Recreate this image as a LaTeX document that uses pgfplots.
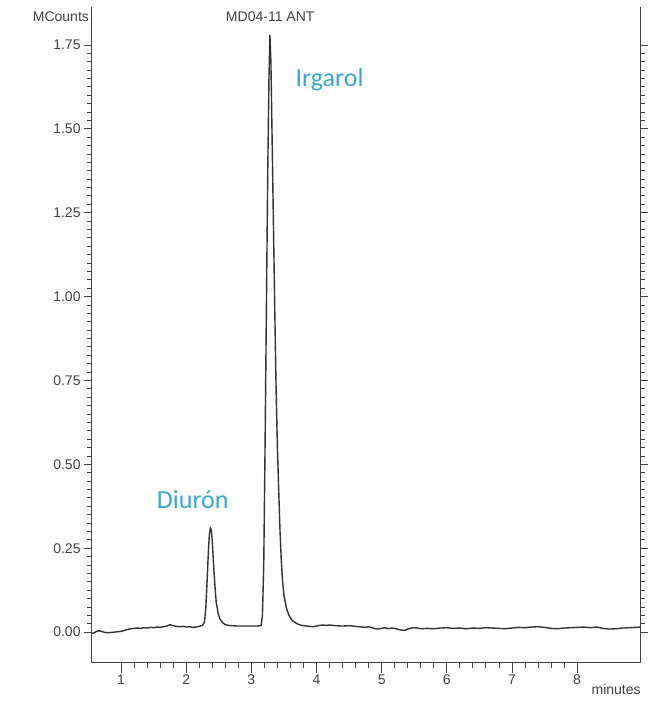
\documentclass[border=0pt]{standalone}
\usepackage{pgfplots}
\pgfplotsset{compat=1.18}
\usepackage{fontspec}
\setmainfont{Liberation Sans}
\newfontfamily\carlito{Carlito}
\definecolor{axgray}{RGB}{65,65,65}
\definecolor{trace}{RGB}{50,50,50}
\definecolor{annblue}{RGB}{60,165,210}

\begin{document}
\begin{tikzpicture}
\begin{axis}[
  scale only axis, width=549pt, height=655pt,
  xmin=0.54, xmax=8.98, ymin=-0.092, ymax=1.863,
  axis x line=bottom, axis y line=box,
  axis line style={-,axgray,line width=1pt},
  tick align=outside,
  tick style={axgray,line width=0.8pt},
  major tick length=7pt, minor tick length=4pt,
  xtick={1,2,3,4,5,6,7,8}, minor x tick num=4,
  ytick={0,0.25,0.5,0.75,1,1.25,1.5,1.75}, minor y tick num=9,
  xtick style={/pgfplots/major tick length=10pt,/pgfplots/minor tick length=5pt},
  /pgf/number format/assume math mode=true,
  yticklabel style={/pgf/number format/.cd,fixed,fixed zerofill,precision=2},
  ticklabel style={font=\fontsize{14}{15}\selectfont, text=axgray},
  xticklabel style={yshift=-1pt},
  clip=false,
]
\addplot[trace, line width=1.4pt] coordinates {
(0.54,-0.004)(0.58,-0.003)(0.62,0.002)(0.66,0.004)(0.70,0.002)(0.75,-0.001)(0.80,-0.002)(0.85,-0.001)(0.90,0.000)(0.95,0.001)
(1.00,0.002)(1.05,0.005)(1.10,0.008)(1.15,0.010)(1.20,0.011)(1.25,0.012)(1.30,0.011)(1.35,0.013)(1.40,0.012)(1.45,0.014)
(1.50,0.013)(1.55,0.015)(1.60,0.014)(1.65,0.016)(1.70,0.018)(1.75,0.022)(1.80,0.019)(1.85,0.017)(1.90,0.016)(1.95,0.017)
(2.00,0.015)(2.05,0.016)(2.10,0.014)(2.15,0.015)(2.20,0.017)(2.25,0.020)(2.28,0.030)
(2.30,0.07)(2.32,0.15)(2.34,0.24)(2.355,0.29)(2.37,0.31)(2.385,0.305)(2.40,0.27)(2.42,0.20)(2.44,0.14)(2.46,0.09)
(2.49,0.055)(2.52,0.038)(2.56,0.028)(2.60,0.022)(2.65,0.020)(2.70,0.019)(2.80,0.018)(2.90,0.018)(3.00,0.018)(3.10,0.018)(3.15,0.020)
(3.17,0.05)(3.19,0.20)(3.21,0.55)(3.23,0.95)(3.25,1.35)(3.27,1.65)(3.285,1.78)(3.30,1.70)(3.32,1.45)(3.34,1.20)
(3.36,0.95)(3.38,0.72)(3.40,0.55)(3.42,0.42)(3.44,0.30)(3.46,0.21)(3.48,0.15)(3.50,0.11)(3.54,0.07)(3.58,0.048)
(3.63,0.034)(3.70,0.025)(3.75,0.021)(3.80,0.019)(3.85,0.018)(3.90,0.017)(3.95,0.016)
(4.00,0.018)(4.05,0.020)(4.10,0.021)(4.15,0.020)(4.20,0.021)(4.30,0.019)(4.40,0.018)(4.50,0.019)(4.60,0.017)(4.70,0.015)
(4.75,0.014)(4.80,0.016)(4.85,0.013)(4.90,0.010)(4.95,0.009)(5.00,0.011)(5.05,0.013)(5.10,0.010)(5.15,0.012)(5.20,0.011)
(5.25,0.008)(5.30,0.006)(5.35,0.005)(5.40,0.009)(5.45,0.012)(5.50,0.013)(5.55,0.012)(5.60,0.010)(5.70,0.011)(5.80,0.010)
(5.90,0.012)(6.00,0.013)(6.10,0.011)(6.20,0.012)(6.30,0.010)(6.40,0.012)(6.50,0.011)(6.60,0.013)(6.70,0.012)(6.80,0.011)
(6.90,0.010)(7.00,0.012)(7.10,0.014)(7.20,0.013)(7.30,0.015)(7.40,0.016)(7.50,0.014)(7.60,0.011)(7.70,0.010)(7.80,0.012)
(7.90,0.013)(8.00,0.014)(8.10,0.015)(8.20,0.013)(8.30,0.015)(8.40,0.011)(8.50,0.009)(8.60,0.010)(8.70,0.012)(8.80,0.013)
(8.90,0.014)(8.98,0.015)
};
% labels
\node[anchor=north, font=\fontsize{14}{15}\selectfont, text=axgray, inner sep=0pt]
  at (axis cs:3.29,1.863) [yshift=-5pt] {MD04-11 ANT};
\node[anchor=north east, font=\fontsize{14}{15}\selectfont, text=axgray, inner sep=0pt]
  at (rel axis cs:0,1) [xshift=-2pt,yshift=-5pt] {MCounts};
\node[anchor=north east, font=\fontsize{14}{15}\selectfont, text=axgray, inner sep=0pt]
  at (rel axis cs:1,0) [yshift=-21pt] {minutes};
\node[anchor=base, font=\carlito\fontsize{26}{28}\selectfont, text=annblue, inner sep=0pt]
  at (axis cs:4.2,1.627) {Irgarol};
\node[anchor=base, font=\carlito\fontsize{26}{28}\selectfont, text=annblue, inner sep=0pt]
  at (axis cs:2.1,0.368) {Diurón};
% page frame matching the reference proportions
\path ([xshift=-91pt,yshift=-42pt]rel axis cs:0,0) rectangle ([xshift=7pt,yshift=7pt]rel axis cs:1,1);
\end{axis}
\end{tikzpicture}
\end{document}
